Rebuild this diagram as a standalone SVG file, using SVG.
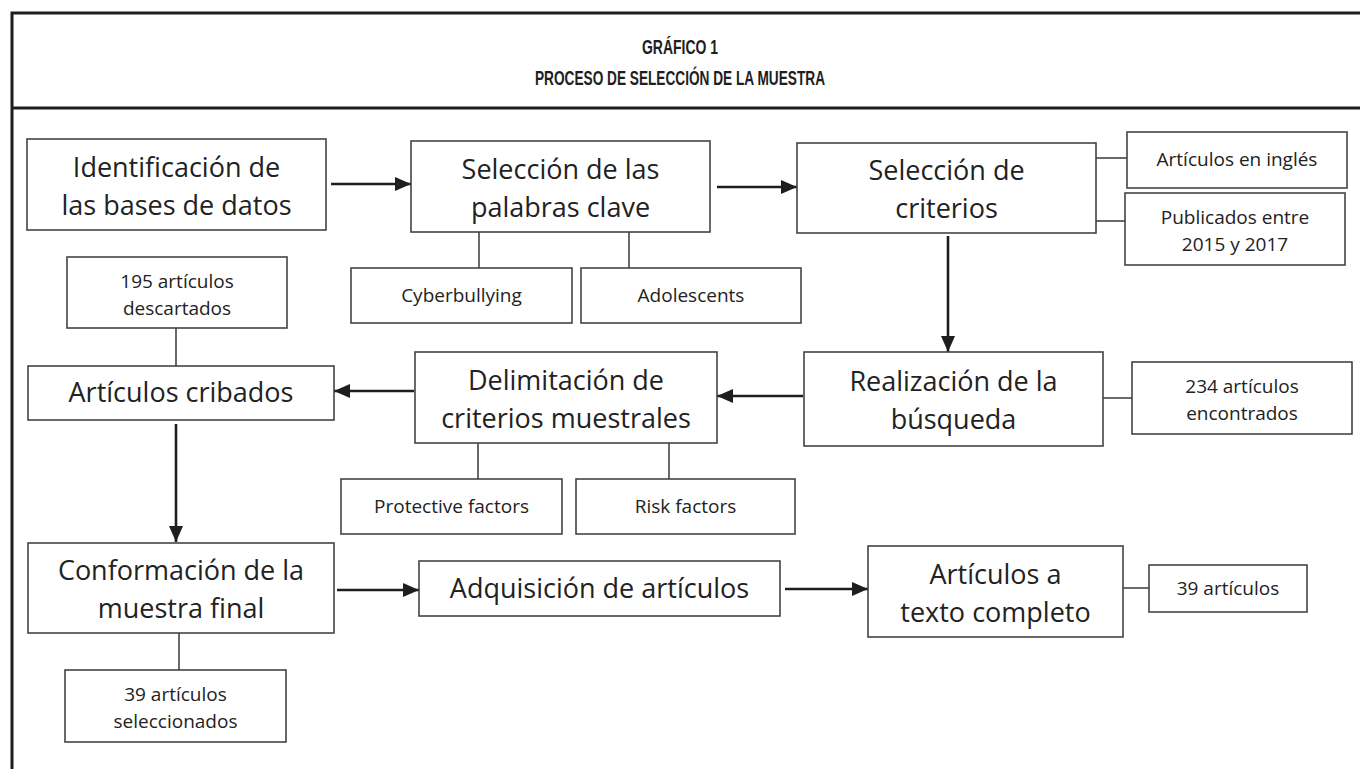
<svg xmlns="http://www.w3.org/2000/svg" width="1360" height="769" viewBox="0 0 1360 769">
<defs>
<marker id="ah" viewBox="0 0 16 14" refX="16" refY="7" markerWidth="16" markerHeight="14" markerUnits="userSpaceOnUse" orient="auto">
<path d="M0,0 L16,7 L0,14 Z" fill="#1e1e1e"/>
</marker>
<style>
.frame{stroke:#1e1e1e;stroke-width:3;fill:none}
.box{fill:#fff;stroke:#444;stroke-width:1.6}
.big{font-family:"Open Sans","Liberation Sans",sans-serif;font-size:27px;fill:#222;text-anchor:middle}
.sm{font-family:"Open Sans","Liberation Sans",sans-serif;font-size:19px;fill:#222;text-anchor:middle}
.ttl{font-family:"Liberation Sans",Arial,sans-serif;font-weight:bold;font-size:21px;fill:#1e1e1e;text-anchor:middle}
.arrow{stroke:#1e1e1e;stroke-width:2.6;fill:none;marker-end:url(#ah)}
.link{stroke:#444;stroke-width:1.6;fill:none}
</style>
</defs>
<rect width="1360" height="769" fill="#fff"/>
<g id="frame">
<path class="frame" d="M12,769 L12,13 L1360,13"/>
<path class="frame" d="M12,108 L1360,108"/>
<text class="ttl" x="680" y="54" textLength="76" lengthAdjust="spacingAndGlyphs">GRÁFICO 1</text>
<text class="ttl" x="680" y="85" textLength="290" lengthAdjust="spacingAndGlyphs">PROCESO DE SELECCIÓN DE LA MUESTRA</text>
</g>
<g id="connectors">
<line class="arrow" x1="331" y1="184" x2="411" y2="184"/>
<line class="arrow" x1="717" y1="187" x2="797" y2="187"/>
<line class="link" x1="479" y1="232" x2="479" y2="268"/>
<line class="link" x1="629" y1="232" x2="629" y2="268"/>
<line class="link" x1="1096" y1="158" x2="1127" y2="158"/>
<line class="link" x1="1096" y1="221" x2="1125" y2="221"/>
<line class="arrow" x1="948" y1="236" x2="948" y2="352"/>
<line class="link" x1="176" y1="328" x2="176" y2="366"/>
<line class="arrow" x1="803" y1="396" x2="717" y2="396"/>
<line class="link" x1="1103" y1="398" x2="1132" y2="398"/>
<line class="arrow" x1="414" y1="391" x2="334" y2="391"/>
<line class="arrow" x1="176" y1="424" x2="176" y2="542"/>
<line class="link" x1="478" y1="443" x2="478" y2="479"/>
<line class="link" x1="669" y1="443" x2="669" y2="479"/>
<line class="arrow" x1="337" y1="590" x2="419" y2="590"/>
<line class="arrow" x1="785" y1="589" x2="868" y2="589"/>
<line class="link" x1="1123" y1="588" x2="1149" y2="588"/>
<line class="link" x1="179" y1="633" x2="179" y2="670"/>
</g>
<g id="n-identificacion"><rect class="box" x="27" y="139" width="299" height="91"/><text class="big" x="176.5" y="177">Identificación de</text><text class="big" x="176.5" y="215">las bases de datos</text></g>
<g id="n-palabras"><rect class="box" x="411" y="141" width="299" height="91"/><text class="big" x="560.5" y="179">Selección de las</text><text class="big" x="560.5" y="217">palabras clave</text></g>
<g id="n-criterios"><rect class="box" x="797" y="143" width="299" height="90"/><text class="big" x="946.5" y="180">Selección de</text><text class="big" x="946.5" y="218">criterios</text></g>
<g id="n-ingles"><rect class="box" x="1127" y="132" width="220" height="56"/><text class="sm" x="1237" y="166">Artículos en inglés</text></g>
<g id="n-publicados"><rect class="box" x="1125" y="193" width="220" height="72"/><text class="sm" x="1235" y="224">Publicados entre</text><text class="sm" x="1235" y="251">2015 y 2017</text></g>
<g id="n-cyber"><rect class="box" x="351" y="268" width="221" height="55"/><text class="sm" x="461.5" y="302">Cyberbullying</text></g>
<g id="n-adolescents"><rect class="box" x="581" y="268" width="220" height="55"/><text class="sm" x="691" y="302">Adolescents</text></g>
<g id="n-195"><rect class="box" x="67" y="257" width="220" height="71"/><text class="sm" x="177" y="288">195 artículos</text><text class="sm" x="177" y="315">descartados</text></g>
<g id="n-cribados"><rect class="box" x="28" y="366" width="306" height="54"/><text class="big" x="181" y="402">Artículos cribados</text></g>
<g id="n-delimitacion"><rect class="box" x="415" y="352" width="302" height="91"/><text class="big" x="566" y="390">Delimitación de</text><text class="big" x="566" y="428">criterios muestrales</text></g>
<g id="n-realizacion"><rect class="box" x="804" y="352" width="299" height="94"/><text class="big" x="953.5" y="391">Realización de la</text><text class="big" x="953.5" y="429">búsqueda</text></g>
<g id="n-234"><rect class="box" x="1132" y="362" width="220" height="72"/><text class="sm" x="1242" y="393">234 artículos</text><text class="sm" x="1242" y="420">encontrados</text></g>
<g id="n-protective"><rect class="box" x="341" y="479" width="221" height="55"/><text class="sm" x="451.5" y="513">Protective factors</text></g>
<g id="n-risk"><rect class="box" x="576" y="479" width="219" height="55"/><text class="sm" x="685.5" y="513">Risk factors</text></g>
<g id="n-conformacion"><rect class="box" x="28" y="543" width="306" height="90"/><text class="big" x="181" y="580">Conformación de la</text><text class="big" x="181" y="618">muestra final</text></g>
<g id="n-adquisicion"><rect class="box" x="419" y="561" width="361" height="55"/><text class="big" x="599.5" y="598">Adquisición de artículos</text></g>
<g id="n-texto"><rect class="box" x="868" y="546" width="255" height="91"/><text class="big" x="995.5" y="584">Artículos a</text><text class="big" x="995.5" y="622">texto completo</text></g>
<g id="n-39"><rect class="box" x="1149" y="565" width="158" height="47"/><text class="sm" x="1228" y="595">39 artículos</text></g>
<g id="n-39sel"><rect class="box" x="65" y="670" width="221" height="72"/><text class="sm" x="175.5" y="701">39 artículos</text><text class="sm" x="175.5" y="728">seleccionados</text></g>
</svg>
